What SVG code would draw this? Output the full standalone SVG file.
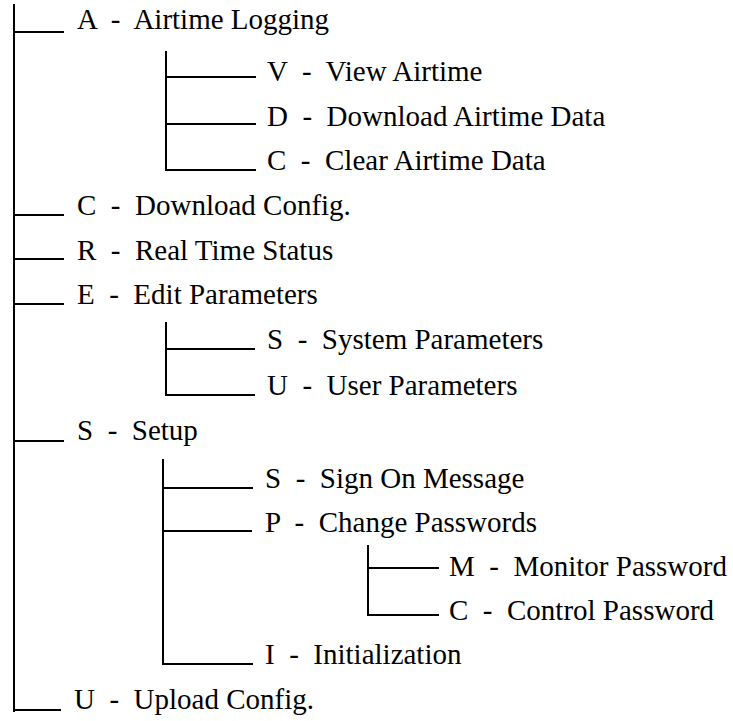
<svg xmlns="http://www.w3.org/2000/svg" width="733" height="721" viewBox="0 0 733 721">
<style>
  text { font-family: 'Liberation Serif', 'DejaVu Serif', serif; font-size: 29px; fill: #000; white-space: pre; }
  .c { stroke: #000; stroke-width: 2; fill: none; stroke-linecap: square; }
</style>
<rect width="733" height="721" fill="#fff"/>
<g id="connectors">
  <path class="c" d="M14 5 V711 M14 32 H63 M14 215 H63 M14 259 H63 M14 304 H63 M14 441 H63 M14 710 H60"/>
  <path class="c" d="M166 52 V170 M166 77 H255 M166 124 H255 M166 170 H255"/>
  <path class="c" d="M166 323 V395 M166 349 H254 M166 395 H254"/>
  <path class="c" d="M163 460 V664 M163 488 H252 M163 531 H251 M163 664 H252"/>
  <path class="c" d="M368 546 V615 M368 568 H438 M368 615 H438"/>
</g>
<g id="n-airtime"><text x="77" y="29">A  -  Airtime Logging</text></g>
<g id="n-view"><text x="267" y="81">V  -  View Airtime</text></g>
<g id="n-download-airtime"><text x="267" y="126">D  -  Download Airtime Data</text></g>
<g id="n-clear"><text x="267" y="170">C  -  Clear Airtime Data</text></g>
<g id="n-download-config"><text x="77" y="215">C  -  Download Config.</text></g>
<g id="n-realtime"><text x="77" y="260">R  -  Real Time Status</text></g>
<g id="n-edit"><text x="77" y="304">E  -  Edit Parameters</text></g>
<g id="n-system"><text x="267" y="349">S  -  System Parameters</text></g>
<g id="n-user"><text x="267" y="395">U  -  User Parameters</text></g>
<g id="n-setup"><text x="77" y="440">S  -  Setup</text></g>
<g id="n-signon"><text x="265" y="488">S  -  Sign On Message</text></g>
<g id="n-passwords"><text x="265" y="532">P  -  Change Passwords</text></g>
<g id="n-monitor"><text x="449" y="576">M  -  Monitor Password</text></g>
<g id="n-control"><text x="449" y="620">C  -  Control Password</text></g>
<g id="n-init"><text x="265" y="664">I  -  Initialization</text></g>
<g id="n-upload"><text x="74" y="709">U  -  Upload Config.</text></g>
</svg>
